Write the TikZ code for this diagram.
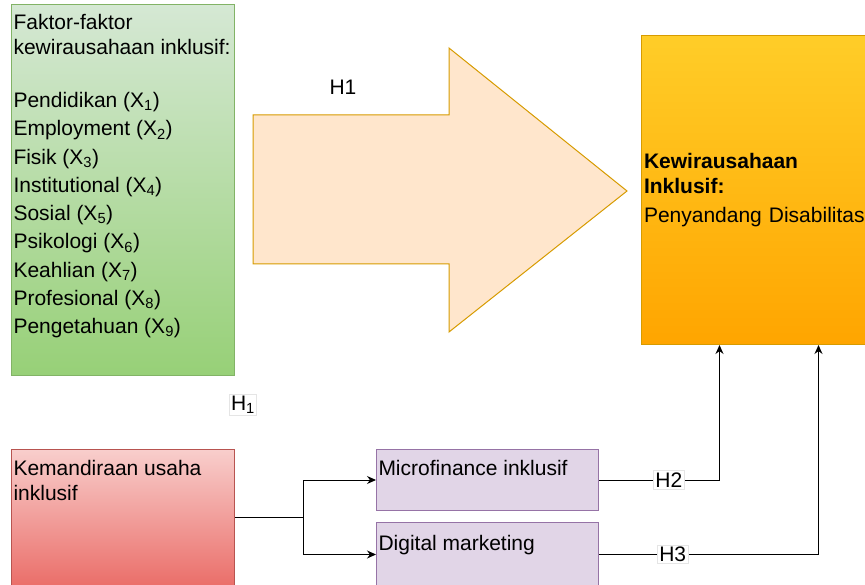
\documentclass[tikz,border=0pt]{standalone}
\usepackage{fontspec}
\setmainfont{Liberation Sans}
\usetikzlibrary{arrows.meta,positioning}

\definecolor{greentop}{HTML}{D5E8D4}
\definecolor{greenbottom}{HTML}{97D077}
\definecolor{greenline}{HTML}{82B366}
\definecolor{redtop}{HTML}{F8CECC}
\definecolor{redbottom}{HTML}{EA6B66}
\definecolor{redline}{HTML}{B85450}
\definecolor{orangetop}{HTML}{FFCD28}
\definecolor{orangebottom}{HTML}{FFA500}
\definecolor{orangeline}{HTML}{D79B00}
\definecolor{purplefill}{HTML}{E1D5E7}
\definecolor{purpleline}{HTML}{9673A6}
\definecolor{arrowfill}{HTML}{FFE6CC}

\tikzset{
	greenbox/.style={draw=greenline, line width=1pt, top color=greentop, bottom color=greenbottom, anchor=north west, inner sep=0pt, minimum width=223pt, minimum height=371pt},
	redbox/.style={draw=redline, line width=1pt, top color=redtop, bottom color=redbottom, anchor=north west, inner sep=0pt, minimum width=223pt, minimum height=141pt},
	purplebox/.style={draw=purpleline, line width=1pt, fill=purplefill, anchor=north west, inner sep=0pt, minimum width=222pt},
	orangebox/.style={draw=orangeline, line width=1pt, top color=orangetop, bottom color=orangebottom, anchor=north west, inner sep=2pt, align=left, text width=222pt, minimum width=227pt, minimum height=309pt},
	boxtext/.style={inner sep=2pt, align=left},
	hlabel/.style={draw=gray!20, fill=white, inner sep=2pt}
}

\begin{document}
\begin{tikzpicture}[x=1pt, y=-1pt, >={Stealth[length=9pt,width=8pt]}, font=\fontsize{21}{25}\selectfont, line width=1pt]
		\useasboundingbox (0,0) rectangle (865,585);
		
		\node [greenbox] (faktor) at (11,4) {};
		\node [boxtext, below right=8pt and 0pt of faktor.north west] (faktortext) {Faktor-faktor\\kewirausahaan inklusif:\\[28pt]
			Pendidikan (X\textsubscript{1})\\[3.25pt]
			Employment (X\textsubscript{2})\\[3.25pt]
			Fisik (X\textsubscript{3})\\[3.25pt]
			Institutional (X\textsubscript{4})\\[3.25pt]
			Sosial (X\textsubscript{5})\\[3.25pt]
			Psikologi (X\textsubscript{6})\\[3.25pt]
			Keahlian (X\textsubscript{7})\\[3.25pt]
			Profesional (X\textsubscript{8})\\[3.25pt]
			Pengetahuan (X\textsubscript{9})};
		\node [redbox] (kemandirian) at (11,449) {};
		\node [boxtext, below right=9pt and 0pt of kemandirian.north west] (kemandiriantext) {Kemandiraan usaha\\inklusif};
		\node [purplebox, minimum height=61pt] (micro) at (376,449) {};
		\node [boxtext, below right=9pt and 0pt of micro.north west] (microtext) {Microfinance inklusif};
		\node [purplebox, minimum height=64pt] (digital) at (376,522) {};
		\node [boxtext, below right=11pt and 0pt of digital.north west] (digitaltext) {Digital marketing};
		\node [orangebox] (kewirausahaan) at (641,35) {\textbf{Kewirausahaan}\\\textbf{Inklusif:}\\[4pt]Penyandang Disabilitas};
		
		% big arrow H1
		\filldraw[draw=orangeline, fill=arrowfill, line join=miter]
		(253,115) -- (449,115) -- (449,48) -- (627,191) -- (449,332) -- (449,264) -- (253,264) -- cycle;
		\node (h1) at (343,87) {H1};
		\node [hlabel] (hsub) at (243,405) {H\textsubscript{1}};
		
		\coordinate (split) at (303,517);
		\draw
		(kemandirian.east |- split) -- (split);
		\draw[->]
		(split) |- (micro.west);
		\draw[->]
		(split) |- (digital.west);
		\draw[->]
		(micro.east) -| node [hlabel, pos=0.29] (h2) {H2} ([xshift=-35.5pt]kewirausahaan.south);
		\draw[->]
		(digital.east) -| node [hlabel, pos=0.168] (h3) {H3} ([xshift=63.5pt]kewirausahaan.south);
		
\end{tikzpicture}
\end{document}
